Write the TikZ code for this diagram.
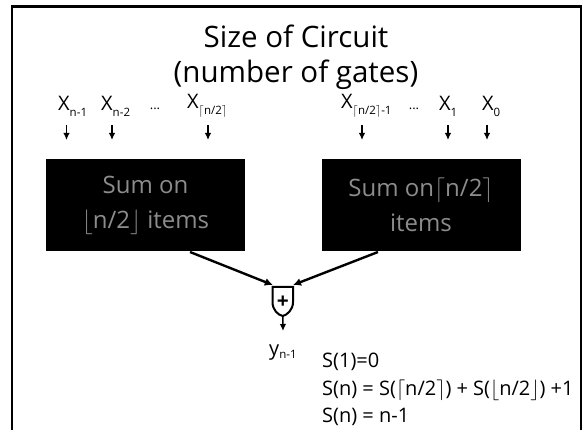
\documentclass[tikz,border=0pt]{standalone}
\usepackage{fontspec}
\setmainfont{Open Sans}
\usetikzlibrary{arrows.meta}
\definecolor{boxtext}{gray}{0.55}
\newcommand{\myLc}{$\lceil$}
\newcommand{\myRc}{$\rceil$}
\newcommand{\myLf}{$\lfloor$}
\newcommand{\myRf}{$\rfloor$}
\newcommand{\XX}[1]{X\raisebox{-0.3em}{\fontsize{11.5}{11.5}\selectfont #1}}
\tikzset{
  x=1pt,y=-1pt,
  title/.style={font=\fontsize{29.5}{35}\selectfont,align=center,inner sep=0pt},
  inlab/.style={font=\fontsize{20}{22}\selectfont,inner sep=0pt,anchor=west},
  sumbox/.style={fill=black,draw=none,minimum width=199pt,minimum height=92pt,text=boxtext,align=center,inner sep=0pt,font=\fontsize{24}{35}\selectfont},
  small/.style={-{Latex[length=7pt,width=6.5pt]},line width=1.5pt},
  big/.style={-{Latex[length=8pt,width=8pt]},line width=2.4pt},
  eq/.style={font=\fontsize{20}{27.5}\selectfont,align=left,inner sep=0pt,anchor=north west},
  dotsl/.style={font=\fontsize{13}{13}\selectfont,inner sep=0pt}
}
\begin{document}
\begin{tikzpicture}
\useasboundingbox (0,0) rectangle (584,430);
\clip (0,0) rectangle (584,430);
\draw[line width=2.4pt] (12,450) -- (12,6.5) -- (581,6.5) -- (581,450);
\node[title] (t) at (296,57) {Size of Circuit\\(number of gates)};
% inputs
\node[inlab] (x1) at (58,106) {\XX{n-1}};
\node[inlab] (x2) at (101,106) {\XX{n-2}};
\node[dotsl] (d1) at (155,109) {...};
\node[inlab] (x3) at (187,106) {\XX{\myLc n/2\myRc}};
\node[inlab] (x4) at (341,106) {\XX{\myLc n/2\myRc-1}};
\node[dotsl] (d2) at (414,109) {...};
\node[inlab] (x5) at (439,106) {\XX{1}};
\node[inlab] (x6) at (482,106) {\XX{0}};
% boxes
\node[sumbox] (L) at (145.5,205) {Sum on\\\myLf n/2\myRf{} items};
\node[sumbox] (R) at (421,205) {Sum on\myLc n/2\myRc\\items};
% top arrows
\coordinate (a1) at (66.5,125); \coordinate (b1) at (66.5,140);
\coordinate (a2) at (112,125); \coordinate (b2) at (112,140);
\coordinate (a3) at (208,125); \coordinate (b3) at (208,140);
\coordinate (a4) at (362,125); \coordinate (b4) at (362,140);
\coordinate (a5) at (448,125); \coordinate (b5) at (448,140);
\coordinate (a6) at (487,125); \coordinate (b6) at (487,140);
\foreach \i in {1,...,6} \draw[small] (a\i) -- (b\i);
% adder
\coordinate (gl) at (272.5,287);
\coordinate (gr) at (293,287);
\coordinate (gb) at (282.8,316);
\draw[line width=2pt,fill=white] (gl) -- (gr) -- (293,302) .. controls (293,310) and (287,315) .. (gb) .. controls (278,315) and (272.5,310) .. (272.5,302) -- cycle;
\node[font=\bfseries\fontsize{21}{21}\selectfont,inner sep=0pt] (plus) at (282.8,302) {+};
\coordinate (ls) at (190,252);
\coordinate (rs) at (378,252);
\coordinate (li) at (272.8,285);
\coordinate (ri) at (293,285);
\draw[big] (ls) -- (li);
\draw[big] (rs) -- (ri);
\coordinate (oe) at (283,331);
\draw[small] (gb) -- (oe);
\node[inlab] (y) at (269,353) {y\raisebox{-0.12em}{\fontsize{11.5}{11.5}\selectfont n-1}};
\node[eq] (e) at (322,353) {S(1)=0\\S(n) = S(\myLc n/2\myRc) + S(\myLf n/2\myRf) +1\\S(n) = n-1};
\end{tikzpicture}
\end{document}
